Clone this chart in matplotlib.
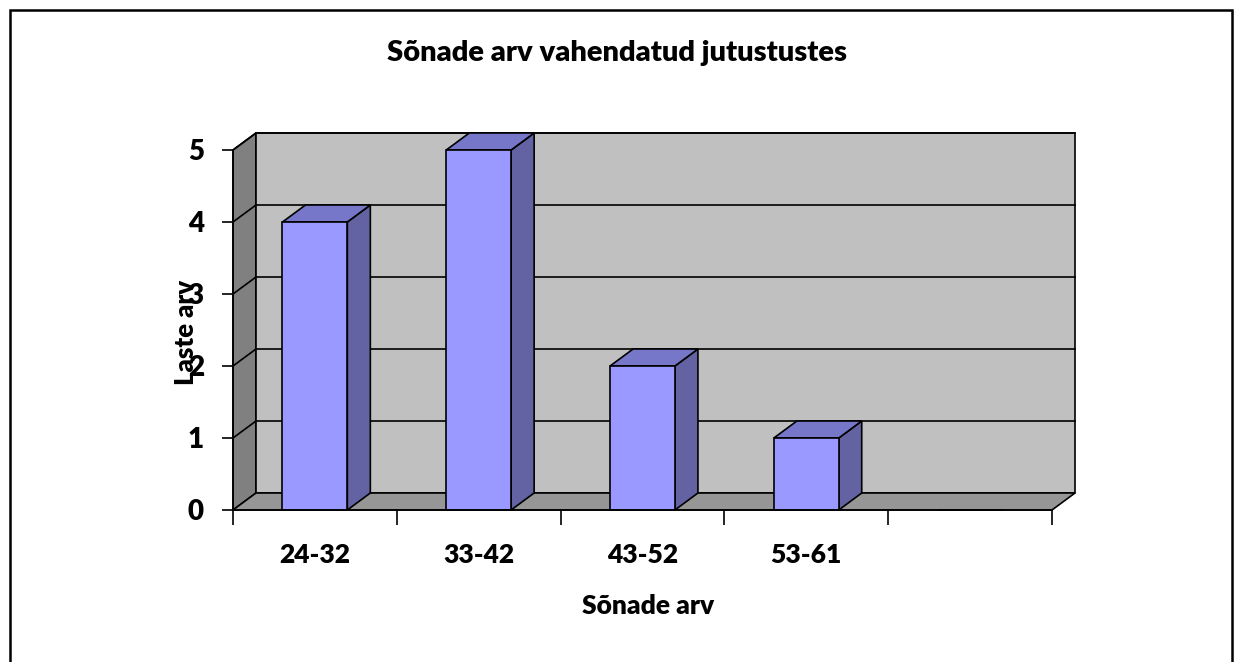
import matplotlib.pyplot as plt
from matplotlib.patches import Polygon, Rectangle

plt.rcParams['font.family'] = ['Lato', 'DejaVu Sans']
plt.rcParams['font.weight'] = 'heavy'

# data
categories = ['24-32', '33-42', '43-52', '53-61', '']
counts = [4, 5, 2, 1, 0]
title = 'Sõnade arv vahendatud jutustustes'
xlabel = 'Sõnade arv'
ylabel = 'Laste arv'

W, H = 1237, 662
fig = plt.figure(figsize=(W / 100, H / 100), dpi=100)

# outer frame of the chart
fig.patches.append(Rectangle((10 / W, -0.1), 1222 / W, 1.1 - 10 / H,
                             transform=fig.transFigure, fill=False,
                             edgecolor='black', linewidth=1.8))

# front plane in pixels: x 233..1052, y 510 (0) .. 150 (5)
ax = fig.add_axes([233 / W, (H - 510) / H, (1052 - 233) / W, 360 / H])
n = len(categories)
ymax = 5
ax.set_xlim(0, n)
ax.set_ylim(0, ymax)

# depth offset in data units
dx = 23 / ((1052 - 233) / n)
dy = 17 / (360 / ymax)

ax.set_facecolor('none')
for s in ax.spines.values():
    s.set_visible(False)

# walls
ax.add_patch(Polygon([(0, 0), (dx, dy), (dx, ymax + dy), (0, ymax)],
                     closed=True, facecolor='#808080', edgecolor='black',
                     linewidth=1.2, clip_on=False, zorder=1))
ax.add_patch(Polygon([(dx, dy), (n + dx, dy), (n + dx, ymax + dy), (dx, ymax + dy)],
                     closed=True, facecolor='#c0c0c0', edgecolor='black',
                     linewidth=1.2, clip_on=False, zorder=1))
ax.add_patch(Polygon([(0, 0), (n, 0), (n + dx, dy), (dx, dy)],
                     closed=True, facecolor='#969696', edgecolor='black',
                     linewidth=1.2, clip_on=False, zorder=1))

# gridlines on left and back walls
for v in range(1, ymax + 1):
    ax.plot([0, dx, n + dx], [v, v + dy, v + dy], color='black',
            linewidth=1.2, clip_on=False, zorder=2)

# bars
bw = 0.396
xs = [i + 0.5 for i in range(n)]
for x, v in zip(xs, counts):
    if v <= 0:
        continue
    l, r = x - bw / 2, x + bw / 2
    ax.add_patch(Polygon([(r, 0), (r + dx, dy), (r + dx, v + dy), (r, v)],
                         closed=True, facecolor='#6363a3', edgecolor='black',
                         linewidth=1.2, clip_on=False, zorder=3))
    ax.add_patch(Polygon([(l, v), (r, v), (r + dx, v + dy), (l + dx, v + dy)],
                         closed=True, facecolor='#7777c9', edgecolor='black',
                         linewidth=1.2, clip_on=False, zorder=3))
ax.bar(xs, counts, width=bw, color='#9999ff', edgecolor='black',
       linewidth=1.2, zorder=4, clip_on=False)

# axes lines and ticks
ax.plot([0, 0], [0, ymax], color='black', linewidth=1.2, clip_on=False, zorder=5)
ax.plot([0, n], [0, 0], color='black', linewidth=1.2, clip_on=False, zorder=5)

ax.set_yticks(range(ymax + 1))
ax.set_yticklabels([str(v) for v in range(ymax + 1)], fontsize=20, fontweight='heavy')
ax.tick_params(axis='y', direction='out', length=8, width=1.2, pad=13)

ax.set_xticks(range(n + 1), minor=True)
ax.tick_params(axis='x', which='minor', direction='out', length=11, width=1.2)
ax.set_xticks(xs)
ax.set_xticklabels(categories, fontsize=19, fontweight='heavy')
ax.tick_params(axis='x', which='major', length=0, pad=24)

fig.text(617 / W, 1 - 53 / H, title, ha='center', va='center',
         fontsize=21, fontweight='heavy')
fig.text(648 / W, 1 - 606 / H, xlabel, ha='center', va='center',
         fontsize=19, fontweight='heavy')
fig.text(186 / W, 1 - 332 / H, ylabel, ha='center', va='center',
         rotation=90, fontsize=18.5, fontweight='heavy')

fig.savefig('out.png', dpi=100)
